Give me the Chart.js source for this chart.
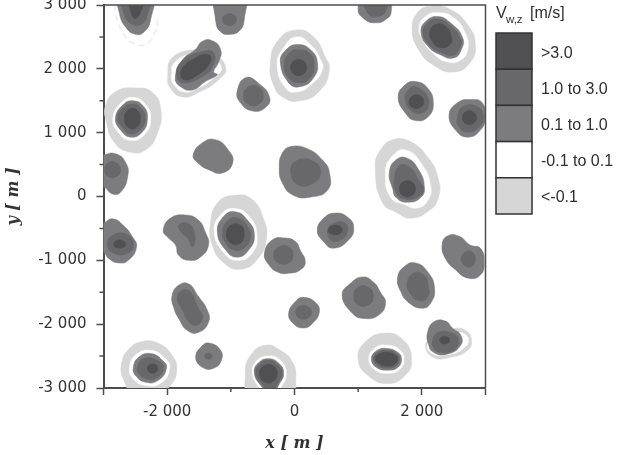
<!DOCTYPE html>
<html><head><meta charset="utf-8">
<style>html,body{margin:0;padding:0;background:#fff}#w{position:relative;width:617px;height:455px}</style>
<script src="https://cdn.jsdelivr.net/npm/chart.js@4/dist/chart.umd.min.js"></script>
</head><body><div id="w"><canvas id="c" width="617" height="455"></canvas></div>
<script>
// Tick lists (metres)
const xLongTicks = [-3000, -2000, 0, 2000, 3000];
const xShortTicks = [-1000, 1000];
const xLabelled = [-2000, 0, 2000];
const yLongTicks = [-3000, -2000, -1000, 0, 1000, 2000, 3000];
const yShortTicks = [-2500, -1500, -500, 500, 1500, 2500];
const legendLabels = ['>3.0', '1.0 to 3.0', '0.1 to 1.0', '-0.1 to 0.1', '<-0.1'];
const legendColors = ['#505052', '#68686a', '#7c7c7e', '#ffffff', '#d6d6d6'];

// Contours of V_w,z: flat x,y lists in metres.
// Faint broken arc of the weakest downdraught (top-left cell)
const faintArcX = [-2830,-2760,-2580,-2340,-2180,-2150];
const faintArcY = [3000,2690,2430,2380,2590,2800];
// Downdraught rings (< -0.1)
const ringContours = [
[-1920,2170,-1560,2300,-1290,2250,-1080,2020,-1190,1830,-1510,1630,-1760,1560,-1950,1700,-1990,1880],
[-2970,1410,-2810,1640,-2500,1700,-2230,1630,-2100,1360,-2150,1000,-2340,730,-2610,700,-2840,860,-2950,1150],
[-380,2060,-270,2430,30,2610,310,2490,490,2170,550,2000,410,1670,90,1500,-190,1560,-330,1750],
[1850,2610,1930,2880,2140,2980,2450,2930,2720,2690,2840,2380,2760,2100,2500,1950,2180,2060,1950,2300],
[1270,460,1350,730,1550,890,1820,860,2090,620,2250,310,2260,-20,2090,-240,1820,-340,1620,-260,1380,-90],
[-1320,-450,-1210,-100,-930,20,-660,-50,-490,-340,-440,-650,-570,-970,-850,-1140,-1120,-1030,-1290,-760],
[-2720,-2650,-2620,-2410,-2390,-2270,-2140,-2300,-1920,-2490,-1850,-2720,-1950,-2960,-2140,-3070,-2540,-3070,-2690,-2850],
[-770,-2760,-690,-2490,-460,-2330,-220,-2410,-30,-2600,20,-2850,-50,-3120,-690,-3120],
[1000,-2540,1110,-2280,1430,-2140,1710,-2250,1840,-2540,1740,-2800,1460,-2930,1150,-2800],
[2060,-2330,2180,-2210,2500,-2070,2690,-2100,2780,-2250,2720,-2410,2450,-2520,2180,-2520]
];
// Calm interiors of the rings (-0.1 to 0.1)
const calmContours = [
[-1870,2110,-1550,2240,-1320,2200,-1150,2020,-1240,1880,-1530,1690,-1740,1640,-1890,1750,-1930,1880],
[-2850,1230,-2720,1470,-2530,1550,-2340,1440,-2260,1230,-2350,980,-2580,880,-2770,1010],
[-270,2060,-170,2330,30,2500,250,2380,410,2140,440,1990,280,1770,50,1640,-140,1700],
[1960,2650,2060,2820,2250,2880,2500,2800,2690,2540,2720,2300,2610,2140,2400,2110,2170,2250,2030,2430],
[1430,370,1510,600,1740,730,2010,490,2140,150,2100,-50,1930,-180,1740,-130,1510,-10],
[-1260,-560,-1160,-290,-930,-190,-700,-330,-590,-600,-660,-880,-900,-1000,-1110,-880],
[-2590,-2680,-2490,-2480,-2260,-2410,-2040,-2530,-1960,-2690,-2100,-2920,-2340,-2960,-2540,-2850],
[-660,-2760,-600,-2580,-410,-2500,-220,-2570,-130,-2770,-210,-2980,-350,-3150,-560,-2980],
[1170,-2540,1270,-2370,1460,-2330,1650,-2400,1720,-2540,1650,-2710,1460,-2770,1260,-2710],
[2090,-2330,2250,-2220,2560,-2130,2690,-2170,2730,-2270,2650,-2380,2450,-2470,2180,-2470]
];
// 0.1 to 1.0
const lowContours = [
[-2750,3150,-2250,3150,-2260,2770,-2360,2580,-2500,2540,-2650,2650,-2750,2870],
[-1220,3150,-800,3150,-790,2770,-860,2600,-1000,2540,-1160,2580,-1240,2770],
[-1870,1860,-1760,2140,-1560,2300,-1450,2430,-1290,2440,-1160,2300,-1190,2110,-1270,1950,-1210,1910,-1400,1800,-1600,1670,-1790,1720],
[-900,1640,-770,1860,-570,1780,-390,1550,-460,1390,-660,1340,-850,1470],
[-2810,1230,-2690,1440,-2530,1500,-2370,1410,-2310,1230,-2390,1010,-2580,930,-2730,1040],
[-1590,650,-1450,840,-1240,890,-1040,730,-970,530,-1130,370,-1350,420,-1520,530],
[-3080,600,-3000,650,-2810,670,-2650,530,-2620,310,-2730,70,-2860,40,-3000,150,-3080,100],
[-220,2110,-130,2300,50,2380,250,2300,360,2100,300,1860,90,1720,-90,1780],
[1000,2930,1110,3150,1460,3150,1520,2900,1430,2770,1270,2720,1110,2770],
[1990,2570,2060,2740,2250,2820,2450,2720,2640,2490,2620,2300,2500,2170,2290,2220,2100,2350],
[1630,1560,1740,1750,1900,1800,2090,1700,2180,1470,2100,1250,1900,1190,1740,1310],
[2430,1280,2560,1470,2760,1520,2950,1470,3000,1250,2920,1040,2720,930,2530,1040],
[-60,780,200,750,440,570,550,370,520,100,250,-10,-20,20,-190,210,-240,460,-190,680],
[1490,370,1590,570,1770,600,1950,420,2040,150,1980,-20,1770,-90,1600,-20,1540,130],
[-3080,-450,-3000,-420,-2860,-350,-2690,-450,-2540,-640,-2480,-790,-2610,-1000,-2760,-1040,-2920,-970,-3000,-870,-3080,-870],
[-2060,-530,-1950,-340,-1710,-290,-1510,-370,-1400,-560,-1350,-760,-1480,-950,-1660,-1000,-1820,-920,-1870,-760,-1990,-640],
[-1210,-560,-1120,-320,-930,-240,-740,-370,-630,-600,-720,-840,-900,-950,-1080,-840],
[-470,-890,-350,-680,-140,-650,20,-710,90,-840,170,-1030,90,-1150,-60,-1200,-250,-1190,-410,-1060],
[360,-530,460,-340,640,-260,830,-320,930,-480,850,-680,610,-810,460,-710],
[-1920,-1550,-1820,-1390,-1660,-1370,-1520,-1550,-1370,-1780,-1350,-1970,-1510,-2130,-1680,-2100,-1820,-1910,-1900,-1730],
[-90,-1830,20,-1640,140,-1580,330,-1660,390,-1810,280,-1990,140,-2060,-20,-1990],
[750,-1550,880,-1360,1070,-1260,1240,-1340,1350,-1500,1430,-1670,1320,-1860,1080,-1910,910,-1830],
[1620,-1280,1710,-1110,1900,-1040,2100,-1190,2200,-1440,2140,-1670,2010,-1750,1790,-1660,1660,-1470],
[2320,-760,2400,-620,2580,-620,2760,-760,2920,-810,2980,-1030,2920,-1230,2730,-1280,2530,-1150,2370,-970],
[-1550,-2520,-1440,-2330,-1320,-2300,-1160,-2410,-1150,-2570,-1270,-2690,-1440,-2680],
[-2530,-2680,-2450,-2520,-2260,-2460,-2070,-2570,-2010,-2690,-2140,-2880,-2340,-2910,-2500,-2800],
[-630,-2760,-570,-2610,-410,-2540,-250,-2610,-170,-2770,-250,-2960,-350,-3120,-530,-2960],
[1210,-2540,1300,-2410,1460,-2380,1620,-2440,1680,-2540,1620,-2680,1460,-2720,1290,-2680],
[2090,-2140,2180,-1970,2370,-1950,2480,-2060,2610,-2170,2610,-2330,2400,-2470,2180,-2440,2100,-2300]
];
// 1.0 to 3.0
const midContours = [
[-2700,3150,-2290,3150,-2310,2850,-2420,2690,-2570,2710,-2680,2870],
[-1130,2770,-1075,2850,-965,2850,-910,2770,-965,2690,-1075,2690],
[-1840,1860,-1790,2100,-1450,2270,-1270,2250,-1290,2030,-1450,1880,-1710,1780],
[-800,1580,-720,1720,-565,1720,-490,1580,-565,1440,-720,1440],
[-2780,1220,-2690,1390,-2530,1450,-2420,1390,-2340,1220,-2430,1040,-2580,980,-2700,1080],
[-2980,420,-2920,530,-2800,530,-2730,420,-2800,310,-2920,310],
[-160,2050,-80,2250,60,2300,240,2240,310,2050,240,1850,60,1780,-90,1860],
[1100,3150,1430,3150,1430,2900,1270,2820,1150,2870],
[2020,2560,2080,2710,2250,2780,2430,2690,2610,2470,2590,2310,2480,2210,2300,2260,2120,2370],
[1740,1520,1820,1700,1950,1700,2090,1560,2100,1400,2010,1310,1850,1330],
[2560,1250,2650,1410,2870,1410,2970,1250,2890,1080,2720,1010,2580,1090],
[-60,390,30,560,280,560,410,390,300,210,60,180],
[1570,290,1660,490,1820,450,1950,260,2030,100,1930,-10,1740,-40,1600,60],
[-2940,-750,-2840,-600,-2620,-600,-2530,-750,-2620,-890,-2840,-890],
[-1820,-450,-1680,-420,-1570,-570,-1600,-790,-1680,-650,-1770,-570],
[-1130,-560,-1040,-370,-880,-340,-720,-500,-690,-650,-800,-810,-960,-840,-1080,-730],
[-330,-920,-250,-790,-90,-790,-20,-920,-90,-1040,-250,-1040],
[520,-530,610,-420,800,-420,830,-560,720,-680,570,-680],
[-1840,-1590,-1760,-1470,-1630,-1500,-1520,-1730,-1440,-1890,-1550,-2020,-1680,-1940,-1760,-1780],
[20,-1810,80,-1720,200,-1720,270,-1810,200,-1910,80,-1910],
[930,-1560,1000,-1420,1160,-1420,1240,-1560,1160,-1700,1000,-1700],
[1770,-1360,1870,-1200,2030,-1230,2100,-1390,2090,-1580,1950,-1630,1820,-1520],
[2620,-980,2680,-870,2790,-870,2840,-980,2790,-1090,2680,-1090],
[-1410,-2500,-1380,-2460,-1320,-2460,-1290,-2500,-1320,-2540,-1380,-2540],
[-2470,-2680,-2370,-2540,-2150,-2570,-2060,-2690,-2180,-2850,-2340,-2850,-2450,-2770],
[-610,-2770,-550,-2630,-410,-2560,-270,-2630,-190,-2780,-270,-2940,-350,-3080,-510,-2940],
[1240,-2540,1320,-2430,1470,-2410,1600,-2460,1650,-2540,1600,-2650,1460,-2690,1310,-2650],
[2180,-2220,2260,-2130,2450,-2130,2580,-2240,2500,-2410,2290,-2440,2180,-2360]
];
// > 3.0
const highContours = [
[-2610,3150,-2370,3150,-2390,2960,-2500,2790,-2590,2960],
[-1770,1990,-1560,2170,-1350,2220,-1320,2110,-1510,1910,-1740,1830],
[-2670,1220,-2610,1360,-2480,1360,-2420,1220,-2480,1080,-2610,1080],
[-60,2020,0,2130,130,2130,190,2020,130,1910,0,1910],
[2130,2590,2230,2700,2370,2670,2470,2480,2430,2370,2300,2330,2170,2420],
[1800,1480,1860,1580,1970,1580,2030,1480,1970,1390,1860,1390],
[2640,1230,2690,1330,2800,1330,2860,1230,2800,1140,2690,1140],
[1650,120,1710,230,1840,230,1900,120,1840,10,1710,10],
[-2840,-750,-2800,-690,-2700,-690,-2650,-750,-2700,-800,-2800,-800],
[-1070,-590,-1000,-450,-850,-450,-790,-590,-850,-730,-1000,-730],
[530,-530,590,-460,700,-460,750,-530,700,-590,590,-590],
[-2310,-2690,-2270,-2630,-2190,-2630,-2150,-2690,-2190,-2760,-2270,-2760],
[-550,-2770,-480,-2650,-340,-2650,-270,-2770,-340,-2900,-480,-2900],
[1270,-2540,1340,-2460,1470,-2440,1580,-2480,1620,-2540,1570,-2630,1450,-2660,1330,-2620],
[2280,-2250,2320,-2200,2400,-2200,2440,-2250,2400,-2300,2320,-2300]
];

const axisColor = '#4d4d4d';
const tickFont = {family:'"DejaVu Sans"', size:15};
const mathFont = {family:'"DejaVu Serif"', size:16, style:'italic', weight:'bold'};

function contourPoints(flat){
  const pts = [];
  for(let i=0;i<flat.length;i+=2) pts.push({x:flat[i], y:flat[i+1]});
  // the loop overlaps itself by one point on each side so the closure stays smooth
  return [pts[pts.length-1], ...pts, pts[0], pts[1]];
}
const layers = [
  [highContours, legendColors[0], 0],
  [midContours, legendColors[1], 1],
  [lowContours, legendColors[2], 2],
  [calmContours, legendColors[3], 3],
  [ringContours, legendColors[4], 4]
];
const datasets = [];
layers.forEach(([contours,color,order])=>{
  contours.forEach(c=>datasets.push({
    data:contourPoints(c), showLine:true, fill:'shape', backgroundColor:color,
    borderColor:color, borderWidth:0.5, pointRadius:0, pointHoverRadius:0, tension:0.5, order
  }));
});
datasets.push({
  data:faintArcX.map((x,i)=>({x,y:faintArcY[i]})), showLine:true, fill:false,
  borderColor:'#ececec', borderWidth:1.5, borderDash:[6,4], pointRadius:0, pointHoverRadius:0, tension:0.4, order:5
});
function fmt(v){
  const a=Math.abs(v), s=a>=1000?Math.floor(a/1000)+' 000':String(a);
  return (v<0?'-':'')+s;
}
const furniture = {
  id:'furniture',
  afterDatasetsDraw(chart){
    const {ctx,chartArea:a,scales:{x,y}}=chart;
    ctx.save();
    ctx.strokeStyle=axisColor; ctx.lineWidth=1.5;
    ctx.beginPath();
    ctx.moveTo(a.left,a.top); ctx.lineTo(a.right,a.top); ctx.lineTo(a.right,a.bottom);
    ctx.stroke();
    ctx.lineWidth=1.5;
    ctx.beginPath();
    xShortTicks.forEach(v=>{const p=x.getPixelForValue(v);ctx.moveTo(p,a.bottom);ctx.lineTo(p,a.bottom+4);});
    yShortTicks.forEach(v=>{const p=y.getPixelForValue(v);ctx.moveTo(a.left,p);ctx.lineTo(a.left-4,p);});
    ctx.stroke();
    ctx.restore();
  },
  afterDraw(chart){
    const ctx=chart.ctx;
    ctx.save();
    const bx=496,bw=36,by=33,bh=36.2;
    legendLabels.forEach((t,i)=>{
      ctx.fillStyle=legendColors[i];
      ctx.fillRect(bx,by+i*bh,bw,bh);
      ctx.strokeStyle='#333';ctx.lineWidth=1.5;
      ctx.strokeRect(bx,by+i*bh,bw,bh);
      ctx.fillStyle='#2e2e2e';
      ctx.font='16px "Liberation Sans"';
      ctx.textBaseline='alphabetic';ctx.textAlign='left';
      ctx.fillText(t,541,58+i*36.1);
    });
    ctx.fillStyle='#2e2e2e';
    ctx.font='16px "Liberation Sans"';
    ctx.fillText('V',496,18);
    ctx.fillText('[m/s]',530,18);
    ctx.font='11.5px "Liberation Sans"';
    ctx.fillText('w,z',506,23);
    ctx.restore();
  }
};
new Chart(document.getElementById('c'),{
  type:'scatter',
  data:{datasets},
  plugins:[furniture],
  options:{
    responsive:false, animation:false,
    layout:{padding:{top:5,right:131.5,left:0,bottom:0}},
    plugins:{legend:{display:false},tooltip:{enabled:false},
      filler:{propagate:false}},
    scales:{
      x:{type:'linear',min:-3000,max:3000,
        afterFit(s){s.height=67;s.paddingLeft=0;s.paddingRight=0;},
        afterBuildTicks(s){s.ticks=xLongTicks.map(value=>({value}));},
        grid:{drawOnChartArea:false,drawTicks:true,tickLength:7,tickWidth:1.5,tickColor:axisColor},
        border:{display:true,color:axisColor,width:2},
        ticks:{autoSkip:false,maxRotation:0,padding:8,color:'#333',font:tickFont,
          callback:v=>xLabelled.includes(v)?fmt(v):''},
        title:{display:true,text:'x [ m ]',color:'#333',font:mathFont,padding:{top:0,bottom:2}}},
      y:{type:'linear',min:-3000,max:3000,
        afterFit(s){s.width=103.5;s.paddingTop=0;s.paddingBottom=0;},
        afterBuildTicks(s){s.ticks=yLongTicks.map(value=>({value}));},
        grid:{drawOnChartArea:false,drawTicks:true,tickLength:7,tickWidth:1.5,tickColor:axisColor},
        border:{display:true,color:axisColor,width:2},
        ticks:{autoSkip:false,padding:10,color:'#333',font:tickFont,callback:v=>fmt(v)},
        title:{display:true,text:'y [ m ]',color:'#333',font:mathFont,padding:{top:4,bottom:0}}}
    }
  }
});
</script></body></html>
